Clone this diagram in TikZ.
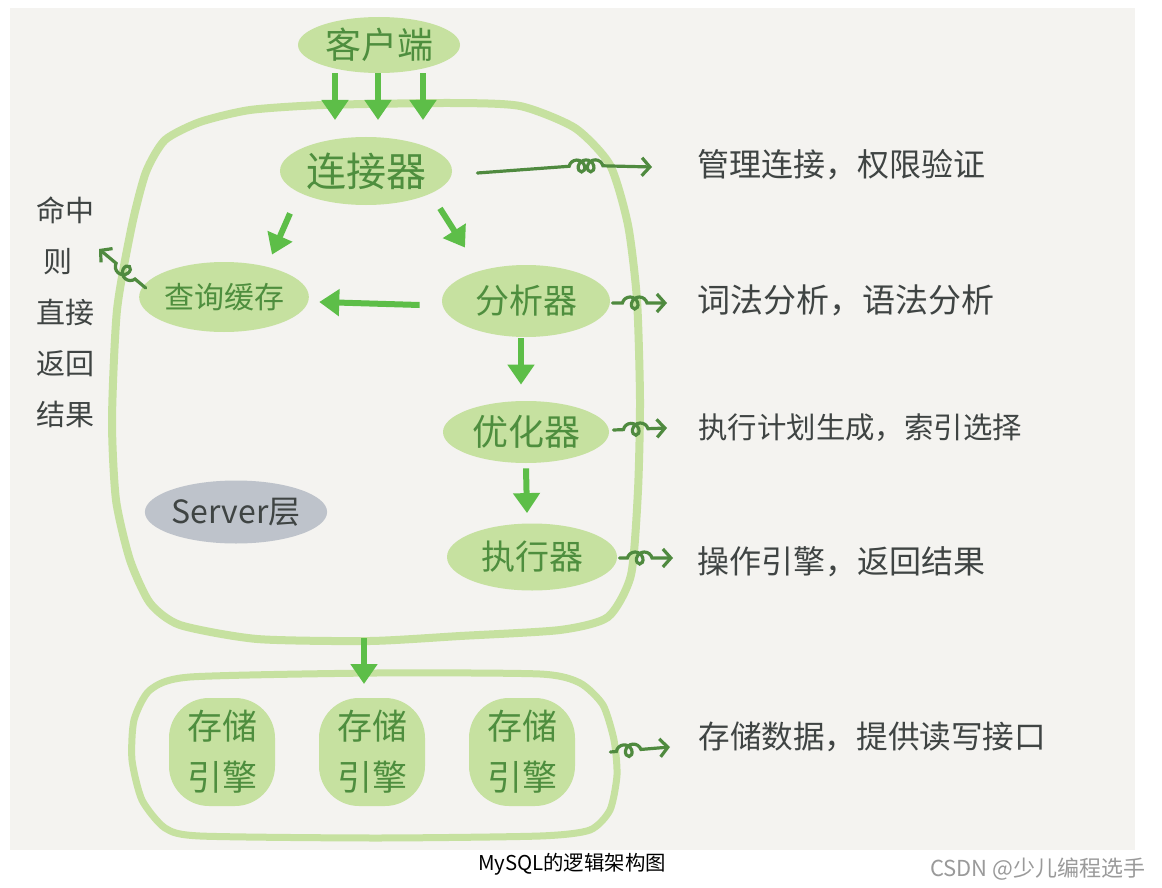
\documentclass[tikz,border=0pt]{standalone}
\usepackage{fontspec}
\setmainfont{Noto Sans CJK SC}
\usetikzlibrary{shapes.geometric,arrows.meta,decorations.pathmorphing,calc}
\definecolor{bgc}{HTML}{F4F3F0}
\definecolor{lg}{HTML}{C6E1A0}
\definecolor{tg}{HTML}{4E8E3E}
\definecolor{ag}{HTML}{5DBE48}
\definecolor{dg}{HTML}{4F8A3F}
\definecolor{tx}{HTML}{3F4443}
\definecolor{gb}{HTML}{BEC3CB}
\definecolor{wm}{HTML}{9A9A9A}
\begin{document}
\begin{tikzpicture}[x=0.5pt,y=-0.5pt,
  bub/.style={ellipse, fill=lg, text=tg, inner sep=0pt},
  blob/.style={rectangle, rounded corners=20pt, fill=lg, text=tg, inner sep=0pt,
    minimum width=53pt, minimum height=54pt, align=center,
    font=\fontsize{17.5pt}{25.5pt}\selectfont},
  note/.style={text=tx, anchor=west, inner sep=0pt},
  arr/.style={draw=ag, line width=3pt, -{Triangle[length=10pt,width=13pt]}},
  squig/.style={draw=dg, line width=1.6pt, line cap=round, decorate,
    decoration={coil, amplitude=3pt, segment length=4.6pt, aspect=0.9},
    -{Straight Barb[length=4pt,width=9pt]}},
  frame/.style={draw=lg, line width=4pt, line join=round}]
\path[use as bounding box] (0,0) rectangle (1162,888);
\fill[white] (0,0) rectangle (1162,888);
\fill[bgc] (10,8) rectangle (1135,850);

% server frame
\draw[frame] plot[smooth cycle, tension=0.4] coordinates {
  (323,105) (450,103) (520,106) (575,128) (610,165) (628,225) (637,300)
  (640,400) (638,490) (631,575) (608,617) (560,630) (460,636) (370,641)
  (257,639) (180,625) (150,603) (130,560) (116,500) (112,420) (117,310)
  (132,225) (146,172) (165,140) (200,122) (250,110)};
% storage frame
\draw[frame, line width=3.5pt] plot[smooth cycle, tension=0.4] coordinates {
  (376,673) (540,674) (580,683) (603,705) (614,740) (617,775) (610,810)
  (590,830) (540,836) (376,838) (200,836) (165,828) (142,800) (132,760)
  (134,720) (150,690) (190,677)};

% nodes
\node[bub, minimum width=81pt, minimum height=28pt, font=\fontsize{18pt}{21pt}\selectfont] (client) at (379,45) {客户端};
\node[bub, minimum width=86pt, minimum height=34pt, font=\fontsize{20pt}{23pt}\selectfont] (conn) at (366,171) {连接器};
\node[bub, minimum width=84pt, minimum height=35pt, font=\fontsize{15pt}{18pt}\selectfont] (cache) at (224,297) {查询缓存};
\node[bub, minimum width=84pt, minimum height=36pt, font=\fontsize{17pt}{20pt}\selectfont] (ana) at (526,301) {分析器};
\node[bub, minimum width=83pt, minimum height=31pt, font=\fontsize{18pt}{21pt}\selectfont] (opt) at (526,432) {优化器};
\node[bub, minimum width=85pt, minimum height=33.5pt, font=\fontsize{17pt}{20pt}\selectfont] (exe) at (532,557) {执行器};
\node[ellipse, fill=gb, text=tx, inner sep=0pt, minimum width=84pt, minimum height=31.5pt, font=\fontsize{16pt}{19pt}\selectfont] (srv) at (236,512) {Server层};

\node[blob] (s1) at (222,752) {存储\\引擎};
\node[blob] (s2) at (372,752) {存储\\引擎};
\node[blob] (s3) at (522,752) {存储\\引擎};

% notes
\node[note, font=\fontsize{16pt}{19pt}\selectfont] (r1) at (697,165) {管理连接，权限验证};
\node[note, font=\fontsize{16.5pt}{19pt}\selectfont] (r2) at (697,300) {词法分析，语法分析};
\node[note, font=\fontsize{14.7pt}{18pt}\selectfont] (r3) at (698,428) {执行计划生成，索引选择};
\node[note, font=\fontsize{16pt}{19pt}\selectfont] (r4) at (697,562) {操作引擎，返回结果};
\node[note, font=\fontsize{15.8pt}{19pt}\selectfont] (r5) at (698,737) {存储数据，提供读写接口};
\node[text=tx, anchor=north west, inner sep=0pt, align=left, font=\fontsize{14.5pt}{25.5pt}\selectfont] (hit) at (36,196) {命中\\\hspace{3.5pt}则\\直接\\返回\\结果};

% caption
\node[inner sep=0pt, text=black, font=\fontsize{10.2pt}{12pt}\selectfont] (cap) at (572,864) {MySQL的逻辑架构图};
\node[inner sep=0pt, anchor=east, text=wm, font=\fontsize{11pt}{14pt}\selectfont] (wmk) at (1146,869) {CSDN @少儿编程选手};

% client arrows
\coordinate (c1) at (335,120);
\coordinate (c2) at (378,120);
\coordinate (c3) at (423,120);
\draw[arr] (c1 |- client.south) -- (c1);
\draw[arr] (c2 |- client.south) -- (c2);
\draw[arr] (c3 |- client.south) -- (c3);

% flow arrows
\draw[arr] ($(conn.south)+(-76,8)$) -- ($(cache.north)+(48,-7)$);
\draw[arr] ($(conn.south)+(74,3)$) -- ($(ana.north)+(-61,-17)$);
\draw[arr] ($(ana.west)+(-22,4)$) -- ($(cache.east)+(10,5)$);
\draw[arr] ($(ana.south)+(-5,1)$) -- ($(opt.north)+(-5,-16)$);
\draw[arr] ($(opt.south)+(0,5)$) -- ($(exe.north)+(-5,-10)$);
\coordinate (sb) at (364,638);
\coordinate (st) at (364,684);
\draw[arr] (sb) -- (st);

% squiggle arrows
\draw[squig, decoration={pre length=46pt, post length=22pt}] ($(conn.east)+(25,2)$) to[bend left=4] ($(r1.west)+(-45,2)$);
\draw[squig, decoration={pre length=5pt, post length=6pt}] ($(ana.east)+(2,2)$) -- ($(r2.west)+(-30,3)$);
\draw[squig, decoration={pre length=5pt, post length=7pt}] ($(opt.east)+(4,-2)$) -- ($(r3.west)+(-31,0)$);
\draw[squig, decoration={pre length=4pt, post length=8pt}] ($(exe.east)+(2,1)$) -- ($(r4.west)+(-24,-4)$);
\draw[squig, decoration={pre length=3pt, post length=11pt}] ($(s3.east)+(35,0)$) -- ($(r5.west)+(-28,10)$);
\draw[squig, decoration={pre length=7pt, post length=9pt}] ($(cache.west)+(7,-9)$) -- ($(hit.north west)+(63,53)$);
\end{tikzpicture}
\end{document}
